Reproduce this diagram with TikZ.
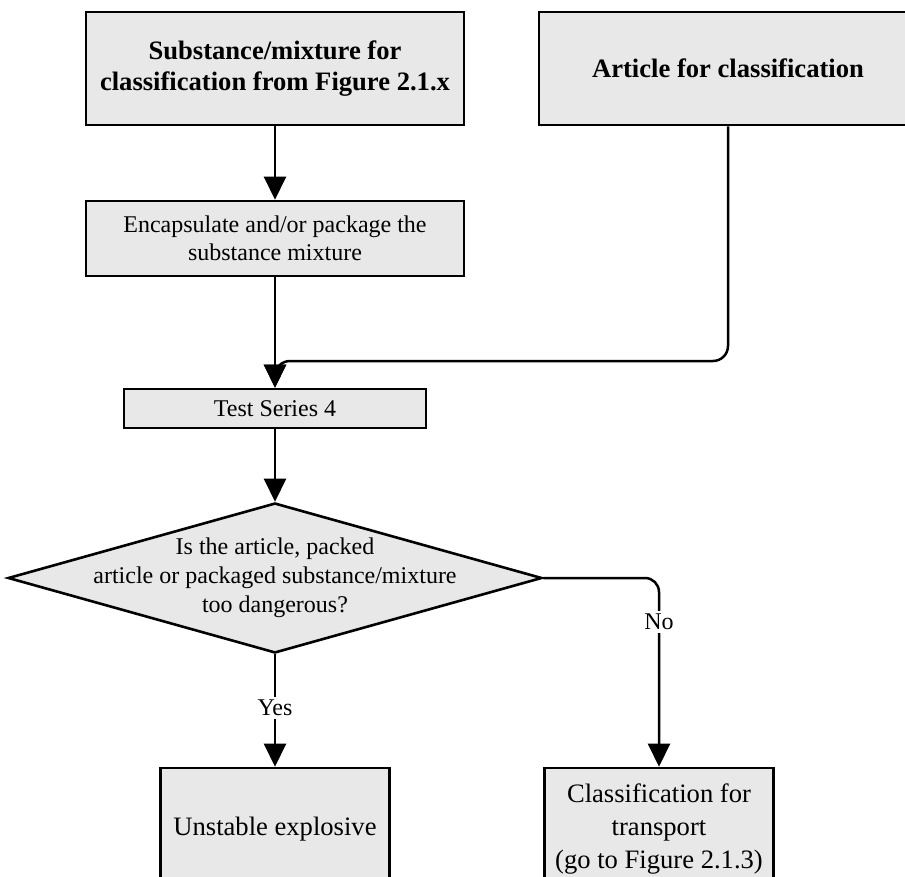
\documentclass[tikz,border=0pt]{standalone}
\usepackage{fontspec}
\setmainfont{Liberation Serif}
\usetikzlibrary{arrows.meta,shapes.geometric}
\definecolor{boxgray}{RGB}{232,232,232}
\begin{document}
\begin{tikzpicture}[x=1pt,y=-1pt,
  box/.style={draw, fill=boxgray, line width=2.6pt, inner sep=0pt, align=center, font=\fontsize{26.6}{31}\selectfont},
  bbox/.style={box, font=\fontsize{26.6}{31}\selectfont\bfseries},
  sbox/.style={box, font=\fontsize{24}{28}\selectfont},
  conn/.style={line width=2.5pt, -{Triangle[length=23pt,width=22pt]}},
  lbl/.style={fill=white, inner sep=3pt, font=\fontsize{24}{28}\selectfont}]
\useasboundingbox (0,0) rectangle (905,877);
\clip (0,0) rectangle (905,877);
\node[bbox, minimum width=378pt, minimum height=113pt] (sub) at (275,68.5) {Substance/mixture for\\classification from Figure 2.1.x};
\node[bbox, minimum width=378pt, minimum height=113pt] (art) at (728,68.5) {Article for classification};
\node[sbox, minimum width=378pt, minimum height=75pt] (enc) at (275,238.5) {Encapsulate and/or package the\\substance mixture};
\node[sbox, minimum width=302pt, minimum height=39pt] (test) at (275,408.5) {Test Series 4};
\node[draw, fill=boxgray, diamond, line width=2.6pt, minimum width=534pt, minimum height=150pt, inner sep=0pt] (dec) at (275,578) {};
\node[align=center, inner sep=0pt, font=\fontsize{24}{29}\selectfont] (dectxt) at (dec.center) {Is the article, packed\\article or packaged substance/mixture\\too dangerous?};
\node[box, minimum width=229pt, minimum height=122pt] (yes) at (275,829) {Unstable explosive};
\node[box, font=\fontsize{26.6}{33}\selectfont, minimum width=229pt, minimum height=122pt] (no) at (659,829) {Classification for\\transport\\(go to Figure 2.1.3)};
\coordinate (j) at (275,361);
\draw[conn] (sub.south) -- (enc.north);
\draw[conn] (enc.south) -- (test.north);
\draw[conn, rounded corners=15pt] (art.south) |- (j) -- (test.north);
\draw[conn] (test.south) -- (dec.north);
\draw[conn] (dec.south) -- node[lbl, pos=0.48] (ylbl) {Yes} (yes.north);
\draw[conn, rounded corners=14pt] (dec.east) -| (no.north);
\node[lbl] (nlbl) at (no.north |- 0,622) {No};
\end{tikzpicture}
\end{document}
